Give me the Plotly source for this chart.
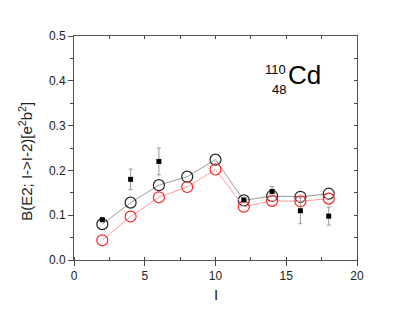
import plotly.graph_objects as go

spins = [2, 4, 6, 8, 10, 12, 14, 16, 18]
theory_black = [0.080, 0.128, 0.167, 0.186, 0.224, 0.133, 0.143, 0.141, 0.148]
theory_red = [0.044, 0.097, 0.140, 0.163, 0.202, 0.119, 0.132, 0.131, 0.137]

exp_spins = [2, 4, 6, 12, 14, 16, 18]
exp_vals = [0.090, 0.180, 0.220, 0.134, 0.153, 0.110, 0.098]
exp_err = [0.003, 0.023, 0.030, 0.003, 0.011, 0.029, 0.020]

x_ticks = [0, 5, 10, 15, 20]
y_ticks = [0.0, 0.1, 0.2, 0.3, 0.4, 0.5]

fig = go.Figure()
fig.add_trace(go.Scatter(x=spins, y=theory_black, mode="lines+markers",
                         line=dict(color="#9a9a9a", width=1),
                         marker=dict(symbol="circle-open", size=11, color="#222222", line=dict(width=1.2)),
                         showlegend=False))
fig.add_trace(go.Scatter(x=spins, y=theory_red, mode="lines+markers",
                         line=dict(color="#ff9a9a", width=1),
                         marker=dict(symbol="circle-open", size=11, color="#ff2020", line=dict(width=1.2)),
                         showlegend=False))
fig.add_trace(go.Scatter(x=exp_spins, y=exp_vals, mode="markers",
                         marker=dict(symbol="square", size=5, color="black"),
                         error_y=dict(type="data", array=exp_err, color="#999999", thickness=1, width=2),
                         showlegend=False))
# dummy trace to activate the mirror axes
fig.add_trace(go.Scatter(x=[None], y=[None], xaxis="x2", yaxis="y2", showlegend=False, hoverinfo="skip"))

font = dict(family="Liberation Sans, Arial, sans-serif", color="#222222")
fig.update_layout(
    template="none",
    width=415, height=312,
    margin=dict(l=74, r=58, t=36, b=52, autoexpand=False),
    paper_bgcolor="white", plot_bgcolor="white",
    font=font,
    xaxis=dict(range=[0, 20], tickvals=x_ticks, ticktext=[str(v) for v in x_ticks],
               ticks="outside", ticklen=5, tickcolor="#444", showgrid=False, zeroline=False,
               showline=True, linecolor="#555", linewidth=1, tickfont=dict(size=12, color="#222222"),
               automargin=False,
               minor=dict(dtick=2.5, ticks="inside", ticklen=3, tickcolor="#444", showgrid=False)),
    yaxis=dict(range=[0, 0.5], tickvals=y_ticks, ticktext=[f"{v:.1f}" for v in y_ticks],
               ticks="outside", ticklen=5, tickcolor="#444", showgrid=False, zeroline=False,
               showline=True, linecolor="#555", linewidth=1, tickfont=dict(size=12, color="#222222"),
               automargin=False,
               minor=dict(dtick=0.05, ticks="outside", ticklen=3, tickcolor="#444", showgrid=False)),
    xaxis2=dict(range=[0, 20], overlaying="x", side="top", showticklabels=False, automargin=False,
                tickvals=[2.5, 5, 7.5, 10, 12.5, 15, 17.5], ticks="inside", ticklen=3, tickcolor="#444",
                showgrid=False, zeroline=False, showline=True, linecolor="#555", linewidth=1),
    yaxis2=dict(range=[0, 0.5], overlaying="y", side="right", showticklabels=False, automargin=False,
                tickvals=[0.05, 0.1, 0.15, 0.2, 0.25, 0.3, 0.35, 0.4, 0.45], ticks="inside", ticklen=3,
                tickcolor="#444", showgrid=False, zeroline=False, showline=True, linecolor="#555", linewidth=1),
)

# axis titles
fig.add_annotation(x=-0.172, y=0.44, xref="paper", yref="paper",
                   text="B(E2; I->I-2)[e<sup>2</sup>b<sup>2</sup>]", textangle=-90, showarrow=False,
                   font=dict(size=15, color="#222222"), xanchor="center", yanchor="middle")
fig.add_annotation(x=0.5, y=-0.105, xref="paper", yref="paper", text="I", showarrow=False,
                   font=dict(size=15, color="#222222"), xanchor="center", yanchor="top")

# nucleus label
fig.add_annotation(x=0.813, y=0.826, xref="paper", yref="paper", text="Cd", showarrow=False,
                   font=dict(size=26, color="black"), xanchor="center", yanchor="middle")
fig.add_annotation(x=0.755, y=0.85, xref="paper", yref="paper", text="110", showarrow=False,
                   font=dict(size=13, color="black"), xanchor="right", yanchor="middle")
fig.add_annotation(x=0.755, y=0.76, xref="paper", yref="paper", text="48", showarrow=False,
                   font=dict(size=13, color="black"), xanchor="right", yanchor="middle")

fig.write_html("out.html", config={"displayModeBar": False},
               post_script="document.body.style.margin='0';")
